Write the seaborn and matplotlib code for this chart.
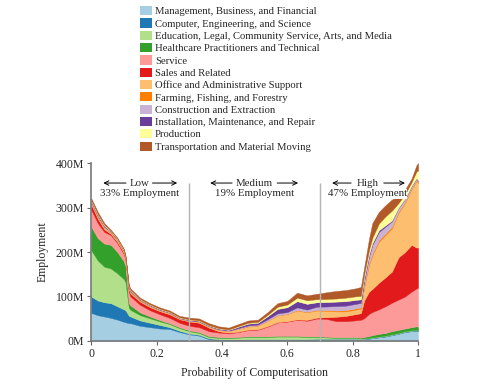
import numpy as np
import pandas as pd
import matplotlib
matplotlib.use('Agg')
import matplotlib.pyplot as plt
import seaborn as sns
from matplotlib.patches import Patch

# ── data (millions of employees) ─────────────────────────────────
PROB = [0.0, 0.02, 0.04, 0.06, 0.08, 0.10, 0.105, 0.115, 0.12, 0.15, 0.18,
        0.21, 0.24, 0.27, 0.30, 0.33, 0.36, 0.39, 0.42, 0.45, 0.48, 0.51,
        0.54, 0.57, 0.60, 0.63, 0.66, 0.69, 0.72, 0.75, 0.78, 0.81, 0.825,
        0.835, 0.85, 0.86, 0.88, 0.90, 0.92, 0.94, 0.96, 0.98, 0.995, 1.0]

management = [63, 58, 55, 52, 48, 43, 42, 40, 40, 34, 31, 28, 27, 20, 15, 12, 4, 2, 2, 2, 2, 2,
              2, 2, 2, 2, 2, 3, 3, 3, 3, 3, 3, 4, 5, 6, 8, 10, 13, 16, 20, 22, 23, 22]
computer = [37, 33, 32, 33, 30, 28, 27, 17, 15, 12, 10, 8, 4, 3, 2, 2, 2, 2, 1.5, 1.5, 2, 2,
            2, 2, 2, 2, 2, 2, 2, 2, 2, 2, 1.5, 1, 1, 1, 1, 1, 1, 1, 1, 1, 1, 1]
education = [104, 90, 80, 78, 74, 68, 63, 18, 15, 12, 10, 8, 7, 6, 5, 4, 3, 3, 3, 4, 5, 5,
             5, 6, 6, 6, 5, 4, 3, 2, 2, 2, 1, 1, 1, 1, 1, 1, 1, 1, 1, 1, 1, 1]
healthcare = [53, 50, 52, 53, 48, 40, 36, 10, 10, 6, 4, 3, 2, 2, 2, 2, 2, 2, 1.5, 1.5, 1.5, 1.5,
              1.5, 1.5, 1.5, 1.5, 1.5, 1.5, 1.5, 1.5, 1.5, 1.5, 2, 3, 4, 5, 6, 6, 7, 7, 6, 7, 8, 8]
service = [38, 34, 26, 22, 20, 16, 14, 25, 20, 17, 14, 13, 12, 10, 10, 11, 11, 10, 9, 11, 14, 15,
           22, 30, 32, 36, 35, 40, 40, 36, 36, 38, 40, 42, 50, 52, 55, 60, 64, 68, 72, 80, 85, 88]
sales = [12, 10, 6, 3, 3, 3, 3, 6, 7, 7, 7, 7, 8, 8, 10, 10, 8, 3, 2, 1, 1, 1,
         1, 1, 1, 1, 2, 2, 4, 10, 12, 14, 15, 40, 50, 52, 60, 65, 70, 95, 100, 105, 92, 90]
office = [3, 3, 3, 2, 2, 2, 1, 2, 2, 2, 2, 2, 2, 1, 1, 2, 2, 3, 3, 6, 7, 8,
          12, 15, 16, 20, 17, 16, 14, 12, 10, 10, 10, 30, 60, 75, 92, 95, 97, 100, 110, 125, 150, 145]
farming = [1, 1, 1, 1, 1, 1, 1, 1, 1, 1, 1, 0.5, 0.5, 0.5, 0.5, 0.5, 0.5, 0.5, 0.5, 0.5, 0.5, 0.5,
           0.5, 0.5, 0.5, 1, 1, 1.5, 2, 2, 3, 3, 3, 3, 4, 4, 4, 4, 4, 3, 3, 2, 2, 2]
construction = [2, 2, 2, 2, 2, 2, 1, 2, 2, 1, 1, 1, 1, 1, 1, 1, 1, 1, 1, 1.5, 2, 2,
                3, 4, 4, 6, 5, 7, 8, 10, 10, 10, 10, 10, 15, 20, 18, 15, 12, 8, 6, 5, 3, 3]
installation = [2, 2, 2, 1, 1, 1, 1, 2, 2, 1, 1, 1, 1, 1, 1, 1, 1, 1.5, 1.5, 3, 4, 4,
                7, 10, 11, 14, 13, 10, 10, 10, 10, 9, 8, 8, 5, 4, 4, 3, 2, 1, 1, 1, 1, 1]
production = [2, 2, 2, 1, 1, 1, 1, 1, 1, 1, 1, 1, 1, 1, 1, 1, 1, 1, 1, 1.5, 2, 2,
              3, 5, 6, 8, 8, 7, 7, 7, 8, 8, 8, 8, 10, 12, 15, 20, 22, 10, 10, 8, 15, 22]
transport = [4, 5, 4, 2, 2, 2, 1, 2, 3, 3, 3, 3, 3, 3, 4, 4, 4.5, 4, 4, 4.5, 5, 5,
             6, 8, 8, 11, 11, 12, 15, 17, 17, 18, 20, 15, 25, 33, 26, 25, 25, 15, 10, 8, 14, 17]

CATEGORIES = ['Management, Business, and Financial',
              'Computer, Engineering, and Science',
              'Education, Legal, Community Service, Arts, and Media',
              'Healthcare Practitioners and Technical',
              'Service',
              'Sales and Related',
              'Office and Administrative Support',
              'Farming, Fishing, and Forestry',
              'Construction and Extraction',
              'Installation, Maintenance, and Repair',
              'Production',
              'Transportation and Material Moving']
SERIES = [management, computer, education, healthcare, service, sales,
          office, farming, construction, installation, production, transport]

# band name, share of employment, label centre, arrow tips
BANDS = [('Low', '33% Employment', 0.147, 0.037, 0.263),
         ('Medium', '19% Employment', 0.50, 0.364, 0.633),
         ('High', '47% Employment', 0.845, 0.737, 0.960)]
BOUNDS = [0.3, 0.7]

df = pd.DataFrame(dict(zip(CATEGORIES, SERIES)), index=PROB)

# ── figure ────────────────────────────────────────────────────────
sns.set_style('ticks')
plt.rcParams['font.family'] = ['Liberation Serif', 'DejaVu Serif']
plt.rcParams['font.size'] = 8

colors = sns.color_palette('Paired', 12)

fig = plt.figure(figsize=(4.8, 3.85), dpi=100)
ax = fig.add_axes([0.19, 0.1143, 0.681, 0.4623])

ax.stackplot(df.index, df.T.values, colors=colors, linewidth=0.3,
             edgecolor='face')

ax.vlines(BOUNDS, 0, 355, color='#b5b5b5', lw=1, zorder=5)

for name, share, xc, xl, xr in BANDS:
    ax.text(xc, 355, name, ha='center', va='center', fontsize=7.8, zorder=7)
    ax.text(xc, 331, share, ha='center', va='center', fontsize=7.8, zorder=6,
            bbox=dict(facecolor='white', edgecolor='none', pad=0.3))
    half = 0.012 + 0.0095 * len(name)
    for tip, start in [(xl, xc - half), (xr, xc + half)]:
        ax.annotate('', xy=(tip, 355), xycoords='data',
                    xytext=(start, 355), textcoords='data', zorder=7,
                    arrowprops=dict(arrowstyle='->', lw=0.7, color='black',
                                    shrinkA=0, shrinkB=0))

ax.set_xlim(0, 1)
ax.set_ylim(0, 400)
ax.set_xticks([0, 0.2, 0.4, 0.6, 0.8, 1.0])
ax.set_xticklabels(['0', '0.2', '0.4', '0.6', '0.8', '1'])
ax.set_yticks([0, 100, 200, 300, 400])
ax.set_yticklabels(['0M', '100M', '200M', '300M', '400M'])
ax.tick_params(labelsize=8.5, length=3, width=0.8, color='#666666', pad=2)
ax.set_xlabel('Probability of Computerisation', fontsize=8.5, labelpad=5)
ax.set_ylabel('Employment', fontsize=8.5, labelpad=5)
sns.despine(ax=ax)
for s in ['left', 'bottom']:
    ax.spines[s].set_color('#777777')
    ax.spines[s].set_linewidth(1.2)

handles = [Patch(facecolor=c, edgecolor='none') for c in colors]
fig.legend(handles, CATEGORIES, loc='upper left',
           bbox_to_anchor=(140 / 480, 1 - 6 / 385), frameon=False,
           fontsize=7.7, handlelength=1.15, handleheight=0.95,
           handletextpad=0.25, labelspacing=0.19, borderpad=0,
           borderaxespad=0)

plt.savefig('out.png', dpi=100)
plt.close()
